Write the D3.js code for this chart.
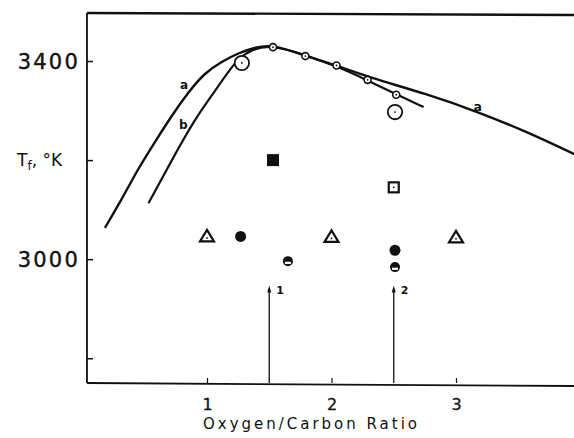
<!DOCTYPE html>
<html><head><meta charset="utf-8">
<script src="https://cdn.jsdelivr.net/npm/d3@7"></script>
<style>
html,body{margin:0;padding:0;background:#fff;}
svg{display:block;}
</style></head>
<body>
<svg id="chart" width="574" height="438"></svg>
<script>
// ---- data ----
const curveA_x = [0.18, 0.32, 0.45, 0.58, 0.72, 0.85, 0.98, 1.12, 1.25, 1.39, 1.53, 1.79, 2.04, 2.29, 2.77, 3.17, 3.57, 3.95];
const curveA_y = [3063, 3123, 3184, 3236, 3291, 3337, 3376, 3399, 3416, 3428, 3433, 3411, 3391, 3368, 3333, 3298, 3257, 3212];
const curveB_x = [0.53, 0.64, 0.77, 0.90, 1.04, 1.17, 1.25, 1.36, 1.53, 1.79, 2.04, 2.28, 2.52, 2.74];
const curveB_y = [3113, 3164, 3224, 3281, 3331, 3378, 3404, 3424, 3433, 3411, 3390, 3362, 3333, 3307];

const smallCircle_x = [1.53, 1.79, 2.04, 2.29, 2.52];
const smallCircle_y = [3428, 3410, 3391, 3362, 3332];
const largeCircle_x = [1.28, 2.51];
const largeCircle_y = [3396, 3297];
const filledSquare_x = [1.53];
const filledSquare_y = [3200];
const openSquare_x = [2.50];
const openSquare_y = [3145];
const triangle_x = [1.0, 2.0, 3.0];
const triangle_y = [3046, 3045, 3044];
const filledCircle_x = [1.27, 2.51];
const filledCircle_y = [3046, 3018];
const halfCircle_x = [1.65, 2.51];
const halfCircle_y = [2996, 2984];

const arrow_x = [1.5, 2.5];
const arrow_labels = ["1", "2"];
const arrow_tip = 2947;

const xTicks = [1, 2, 3];
const xTickLabels = ["1", "2", "3"];
const yTicks = [2800, 3000, 3200, 3400];
const yTickLabels = {3000: "3000", 3400: "3400"};
const xTitle = "Oxygen/Carbon Ratio";

// ---- scales ----
const FONT = "DejaVu Sans, sans-serif";
const svg = d3.select("#chart");
const x = d3.scaleLinear().domain([0, 4]).range([82.5, 580.5]);
const y = d3.scaleLinear().domain([2750, 3500]).range([383, 11.5]);
const xLeft = 0.036, xRight = 3.95, yTop = 3497;

// frame lines
const g = svg.append("g");
g.append("line").attr("x1", x(xLeft)).attr("x2", x(xLeft)).attr("y1", y(yTop)).attr("y2", y(2750))
  .attr("stroke", "#111").attr("stroke-width", 1.8);
g.append("line").attr("x1", x(xLeft)).attr("x2", x(xRight)).attr("y1", y(yTop)).attr("y2", y(yTop) + 2)
  .attr("stroke", "#111").attr("stroke-width", 2.4);
g.append("line").attr("x1", x(xLeft)).attr("x2", x(xRight)).attr("y1", y(2750)).attr("y2", y(2750) + 3)
  .attr("stroke", "#111").attr("stroke-width", 1.8);

// y axis
const yAxis = d3.axisLeft(y).tickValues(yTicks).tickSizeInner(-6).tickSizeOuter(0).tickPadding(7)
  .tickFormat(d => yTickLabels[d] || "");
const ya = svg.append("g").attr("transform", `translate(${x(xLeft)},0)`).call(yAxis)
  .attr("font-size", 21).attr("font-family", FONT);
ya.select(".domain").remove();
ya.selectAll(".tick line").attr("stroke", "#111").attr("stroke-width", 1.5);
ya.selectAll(".tick text").attr("fill", "#111").attr("stroke", "#111").attr("stroke-width", 0.4)
  .attr("letter-spacing", 2.2).attr("dy", "0.36em");

// x axis
const xAxis = d3.axisBottom(x).tickValues(xTicks).tickSizeInner(-5).tickSizeOuter(0).tickPadding(16)
  .tickFormat((d, i) => xTickLabels[i]);
const xa = svg.append("g").attr("transform", `translate(0,${y(2750)})`).call(xAxis)
  .attr("font-size", 16).attr("font-family", FONT);
xa.select(".domain").remove();
xa.selectAll(".tick line").attr("stroke", "#111").attr("stroke-width", 1.2);
xa.selectAll(".tick text").attr("fill", "#111").attr("stroke", "#111").attr("stroke-width", 0.3);

// axis titles
svg.append("text").attr("x", 203).attr("y", 429).attr("font-size", 15).attr("font-family", FONT)
  .attr("fill", "#111").attr("textLength", 214).attr("lengthAdjust", "spacing").text(xTitle);
const tl = svg.append("text").attr("x", 17).attr("y", 166).attr("font-size", 17).attr("font-family", FONT)
  .attr("fill", "#111");
tl.append("tspan").text("T");
tl.append("tspan").attr("font-size", 12).attr("dy", 4).text("f");
tl.append("tspan").attr("dy", -4).text(", °K");

// curves
const line = d3.line().x(d => x(d[0])).y(d => y(d[1])).curve(d3.curveBasis);
svg.append("path").datum(curveA_x.map((v, i) => [v, curveA_y[i]])).attr("d", line)
  .attr("fill", "none").attr("stroke", "#111").attr("stroke-width", 2.4);
svg.append("path").datum(curveB_x.map((v, i) => [v, curveB_y[i]])).attr("d", line)
  .attr("fill", "none").attr("stroke", "#111").attr("stroke-width", 2.2);

// curve labels
const lab = (t, xv, yv) => svg.append("text").attr("x", x(xv)).attr("y", y(yv)).attr("font-size", 12)
  .attr("font-family", FONT).attr("fill", "#111")
  .attr("font-weight", "bold").attr("text-anchor", "middle").text(t);
lab("a", 0.815, 3343);
lab("b", 0.81, 3262);
lab("a", 3.175, 3300);

// markers
const dot = (cx, cy) => svg.append("circle").attr("cx", cx).attr("cy", cy).attr("r", 0.9).attr("fill", "#111");
smallCircle_x.forEach((v, i) => {
  svg.append("circle").attr("cx", x(v)).attr("cy", y(smallCircle_y[i])).attr("r", 3.5)
    .attr("fill", "#fff").attr("stroke", "#111").attr("stroke-width", 1.6);
  dot(x(v), y(smallCircle_y[i]));
});
largeCircle_x.forEach((v, i) => {
  svg.append("circle").attr("cx", x(v)).attr("cy", y(largeCircle_y[i])).attr("r", 7.2)
    .attr("fill", "#fff").attr("stroke", "#111").attr("stroke-width", 1.8);
  dot(x(v), y(largeCircle_y[i]));
});
filledSquare_x.forEach((v, i) => {
  svg.append("rect").attr("x", x(v) - 6).attr("y", y(filledSquare_y[i]) - 6).attr("width", 12).attr("height", 12)
    .attr("fill", "#111");
});
openSquare_x.forEach((v, i) => {
  svg.append("rect").attr("x", x(v) - 5).attr("y", y(openSquare_y[i]) - 5).attr("width", 10).attr("height", 10)
    .attr("fill", "#fff").attr("stroke", "#111").attr("stroke-width", 2.2);
  dot(x(v), y(openSquare_y[i]));
});
triangle_x.forEach((v, i) => {
  const cx = x(v), cy = y(triangle_y[i]);
  svg.append("path").attr("d", `M${cx},${cy - 6.5}L${cx + 7},${cy + 5}L${cx - 7},${cy + 5}Z`)
    .attr("fill", "#fff").attr("stroke", "#111").attr("stroke-width", 2.2).attr("stroke-linejoin", "miter");
  dot(cx, cy + 1.5);
});
filledCircle_x.forEach((v, i) => {
  svg.append("circle").attr("cx", x(v)).attr("cy", y(filledCircle_y[i])).attr("r", 5.5).attr("fill", "#111");
});
halfCircle_x.forEach((v, i) => {
  const cx = x(v), cy = y(halfCircle_y[i]);
  svg.append("circle").attr("cx", cx).attr("cy", cy).attr("r", 5).attr("fill", "#111");
  svg.append("rect").attr("x", cx - 3).attr("y", cy + 0.6).attr("width", 6).attr("height", 2.2).attr("fill", "#fff");
});

// arrows
arrow_x.forEach((v, i) => {
  const ax = x(v), y0 = y(2750), y1 = y(arrow_tip);
  svg.append("line").attr("x1", ax).attr("x2", ax).attr("y1", y0).attr("y2", y1 + 5)
    .attr("stroke", "#111").attr("stroke-width", 1.3);
  svg.append("path").attr("d", `M${ax},${y1}L${ax + 2},${y1 + 7}L${ax - 2},${y1 + 7}Z`).attr("fill", "#111");
  svg.append("text").attr("x", ax + 7).attr("y", y1 + 9).attr("font-size", 11).attr("font-weight", "bold")
    .attr("font-family", FONT).attr("fill", "#111").text(arrow_labels[i]);
});
</script>
</body></html>
